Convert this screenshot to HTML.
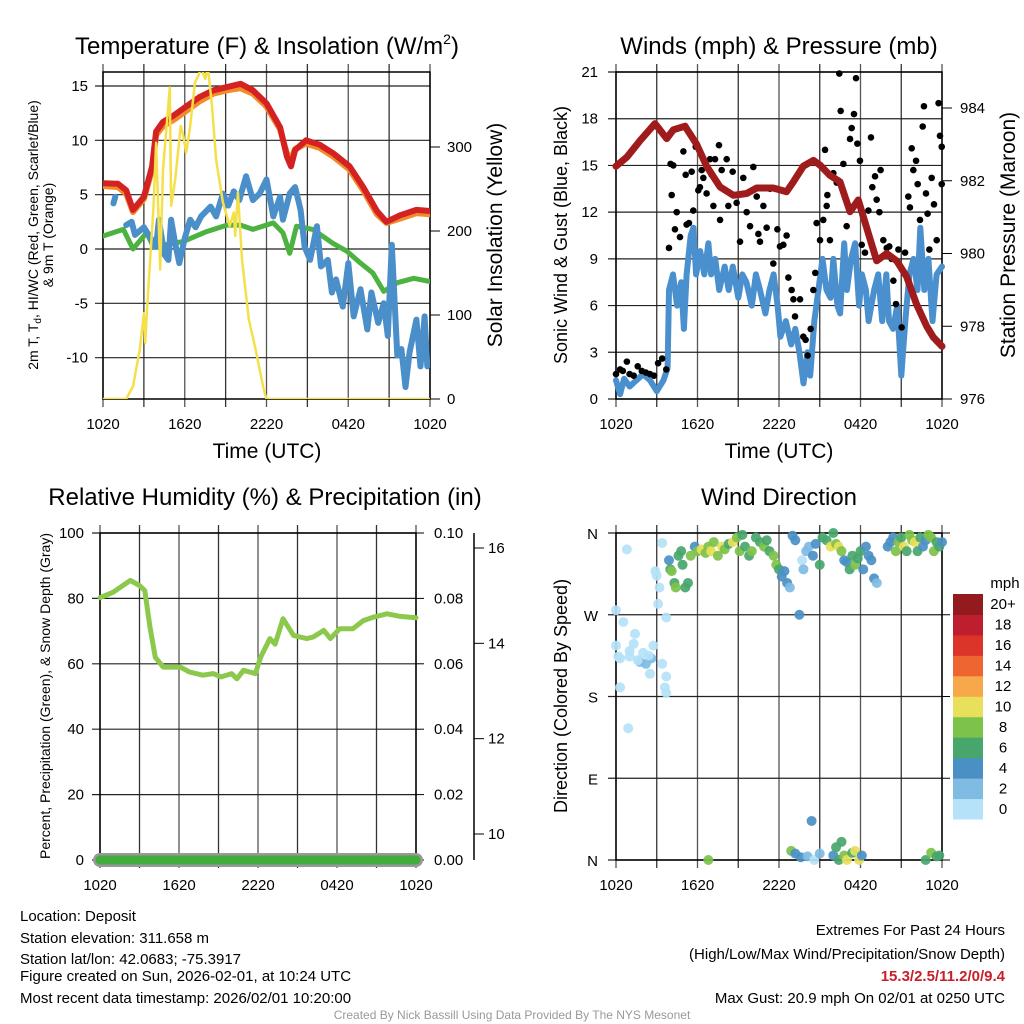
<!DOCTYPE html>
<html><head><meta charset="utf-8"><style>
html,body{margin:0;padding:0;background:#fff;}
svg{display:block;font-family:"Liberation Sans",Arial,sans-serif;}
</style></head><body>
<svg id="root" width="1024" height="1024" viewBox="0 0 1024 1024" xmlns="http://www.w3.org/2000/svg">
<rect width="1024" height="1024" fill="#fff"/>
<text x="267" y="54" font-size="24" text-anchor="middle">Temperature (F) &amp; Insolation (W/m<tspan font-size="14" dy="-10">2</tspan><tspan dy="10">)</tspan></text>
<text x="779" y="54" font-size="24" text-anchor="middle">Winds (mph) &amp; Pressure (mb)</text>
<text x="265" y="505" font-size="24" text-anchor="middle">Relative Humidity (%) &amp; Precipitation (in)</text>
<text x="779" y="505" font-size="24" text-anchor="middle">Wind Direction</text>

<text transform="translate(38,235) rotate(-90)" font-size="14" text-anchor="middle">2m T, T<tspan font-size="10" dy="3">d</tspan><tspan dy="-3">, HI/WC (Red, Green, Scarlet/Blue)</tspan></text>
<text transform="translate(53,235) rotate(-90)" font-size="14" text-anchor="middle">&amp; 9m T (Orange)</text>
<text transform="translate(502,235) rotate(-90)" font-size="21" text-anchor="middle">Solar Insolation (Yellow)</text>
<text x="267" y="458" font-size="21" text-anchor="middle">Time (UTC)</text>
<text transform="translate(567,235) rotate(-90)" font-size="18" text-anchor="middle">Sonic Wind &amp; Gust (Blue, Black)</text>
<text transform="translate(1015,235) rotate(-90)" font-size="21" text-anchor="middle">Station Pressure (Maroon)</text>
<text x="779" y="458" font-size="21" text-anchor="middle">Time (UTC)</text>
<text transform="translate(50,696) rotate(-90)" font-size="14" text-anchor="middle">Percent, Precipitation (Green), &amp; Snow Depth (Gray)</text>
<text transform="translate(567,696) rotate(-90)" font-size="18" text-anchor="middle">Direction (Colored By Speed)</text>

<g font-size="15">
<text x="20" y="921">Location: Deposit</text>
<text x="20" y="943">Station elevation: 311.658 m</text>
<text x="20" y="964">Station lat/lon: 42.0683; -75.3917</text>
<text x="20" y="981">Figure created on Sun, 2026-02-01, at 10:24 UTC</text>
<text x="20" y="1003">Most recent data timestamp: 2026/02/01 10:20:00</text>
</g>
<g font-size="15" text-anchor="end">
<text x="1005" y="935">Extremes For Past 24 Hours</text>
<text x="1005" y="959">(High/Low/Max Wind/Precipitation/Snow Depth)</text>
<text x="1005" y="981" fill="#c8202a" font-weight="bold">15.3/2.5/11.2/0/9.4</text>
<text x="1005" y="1003">Max Gust: 20.9 mph On 02/01 at 0250 UTC</text>
</g>
<text x="512" y="1019" font-size="12" fill="#999" text-anchor="middle">Created By Nick Bassill Using Data Provided By The NYS Mesonet</text>
</svg>
<script>
// ---------- data ----------
const xTickLabels = ["1020","1620","2220","0420","1020"];
const tempHours = [0,1.1,1.7,2.2,3.0,3.6,3.9,4.4,5.2,6.1,7.1,8.1,9.1,10.1,11.0,12.0,13.0,13.5,13.8,14.1,14.9,15.9,16.9,18.1,19.1,20.1,20.8,21.8,23.0,24];
const tempRed =   [6.05,6.0,5.4,3.6,4.8,7.6,10.8,11.7,12.3,13.1,14.0,14.6,14.9,15.2,14.6,13.4,11.2,8.5,7.6,9.1,10.0,9.6,8.8,7.6,5.7,3.5,2.5,3.1,3.6,3.5];
const temp9m =    [5.8,5.7,5.1,3.4,4.6,7.3,10.5,11.3,11.9,12.7,13.6,14.3,14.6,14.8,14.3,13.1,11.0,8.8,8.3,9.2,9.7,9.3,8.5,7.3,5.4,3.2,2.4,2.8,3.3,3.2];
const dewHours = [0,1.5,2.2,3.2,3.7,5.9,7.6,9.1,10.1,11.0,12.5,13.2,13.7,14.2,15.4,16.9,17.9,18.9,19.8,20.6,21.6,22.8,24];
const dewPt =    [1.2,1.8,0,1.5,0.2,0.7,1.6,2.2,2.2,1.8,2.4,1.5,-0.4,2.1,1.8,0.5,-0.2,-1.3,-2.2,-3.9,-3.1,-2.7,-3.0];
const wcHours = [0.76,0.9,null,1.7,2.1,2.35,3.0,3.5,3.9,4.1,4.5,4.8,5.0,5.3,5.6,6.0,6.4,6.8,7.2,7.9,8.3,8.8,9.2,9.6,10.0,10.5,11.0,11.5,12.0,12.5,13.0,13.2,13.7,14.1,14.5,14.8,15.2,15.7,16.0,16.5,16.8,17.1,17.6,18.0,18.4,18.9,19.4,19.7,20.2,20.6,20.9,21.2,21.6,21.9,22.2,22.5,23.0,23.3,23.6,23.8,24];
const windChill = [4.2,4.8,null,2.2,2.5,1.3,2.0,1.0,0.2,2.7,-0.5,-1.0,2.7,0.5,-1.3,1.0,2.7,2.0,3.0,3.9,3.0,5.1,4.0,5.3,4.5,6.7,4.5,5.1,6.4,3.0,4.8,2.7,5.1,5.7,3.6,0.2,-1.0,2.1,-1.6,-1.0,-4.0,-2.8,-5.3,-1.3,-6.2,-3.7,-7.4,-4.0,-6.8,-5.0,-8.0,0.4,-9.8,-9.2,-12.7,-9.5,-6.5,-10.8,-6.2,-10.8,-10.4];
const solarHours = [0,1.7,2.2,2.7,3.0,3.1,3.3,3.7,3.9,4.2,4.4,4.9,5.0,5.3,5.7,5.9,6.1,6.4,6.75,7.0,7.2,7.5,7.7,8.0,8.3,8.8,9.3,9.6,9.7,9.9,10.2,10.7,11.2,11.8,12.0,24];
const solar =      [0,0,15,59,102,67,126,226,305,154,273,371,230,261,325,313,293,325,377,385,395,381,395,349,285,234,206,222,194,246,166,95,59,11,0,0];
const tempTicks = [15,10,5,0,-5,-10];
const solarTicks = [0,100,200,300];

const windHours = [0,0.3,0.6,1,1.5,2,2.5,3,3.5,3.8,3.9,4.2,4.5,4.8,5,5.2,5.5,5.7,5.9,6.2,6.5,6.8,7,7.3,7.6,8,8.3,8.6,9,9.3,9.6,10,10.3,10.6,11,11.3,11.6,11.9,12.1,12.5,12.9,13.2,13.5,13.8,14.1,14.3,14.6,14.9,15.2,15.5,15.8,16,16.3,16.5,16.8,17,17.3,17.6,17.9,18.1,18.4,18.6,19,19.3,19.6,19.9,20.1,20.4,20.7,21,21.3,21.6,21.9,22.2,22.4,22.7,23,23.3,23.6,24];
const windSpd =   [1.2,0.3,1.3,0.8,1.2,1.6,1.2,0.5,1.2,2,7,8,6,7.5,4.5,8,10.5,11,8,9.5,8,10,8,9,7,8.5,7,8.5,6.5,8,7.5,6,8,7,5.5,7,8,6,4,5,3.5,4.5,3,1,3,1.5,5,7,9,7,6.5,9,6,5.5,10,7,9,10,6,8,7,5,7,8,5,8,5,4.5,6,1.5,5,8,9,7,11,7,9,5,8,8.5];
const gustHours = [0.0,0.3,0.5,0.8,1.0,1.3,1.6,1.9,2.2,2.5,2.8,3.1,3.4,3.7,3.90,4.02,4.22,4.10,4.47,4.34,4.71,4.96,5.13,5.20,5.37,5.57,5.69,5.87,6.06,6.18,6.31,6.43,6.67,6.92,7.04,7.17,7.29,7.58,7.66,7.78,8.15,8.27,8.59,8.88,9.13,9.37,9.62,9.87,10.11,10.36,10.48,10.60,10.85,11.09,11.34,11.58,11.73,11.88,12.07,12.32,12.56,12.69,12.93,13.06,13.18,13.55,13.79,13.96,14.11,14.33,14.53,14.67,14.77,15.02,15.26,15.39,15.51,15.56,15.75,16.0,16.25,16.44,16.54,16.74,16.98,17.23,17.35,17.52,17.67,17.77,17.96,18.09,18.33,18.58,18.77,18.87,19.07,19.19,19.39,19.48,19.68,19.93,20.12,20.29,20.42,20.61,20.79,21.03,21.28,21.52,21.64,21.77,21.89,22.09,22.21,22.38,22.58,22.67,22.82,22.94,23.07,23.24,23.41,23.61,23.75,23.85,23.98,23.98];
const gust = [1.6,1.9,1.8,2.4,1.6,1.5,2.1,1.8,1.7,1.6,1.5,2.3,2.6,1.9,9.7,15.1,15.0,13.1,12.0,10.9,10.4,15.9,14.4,11.2,11.3,14.6,12.1,16.2,13.4,13.6,14.7,14.2,13.2,15.4,14.4,12.4,15.4,16.3,11.5,14.7,15.4,12.4,14.6,12.6,10.1,14.2,12.0,11.1,14.9,13.0,10.6,10.1,12.4,11.0,13.5,8.7,13.5,10.9,9.8,9.9,10.5,7.8,7.0,6.4,5.3,6.4,4.0,3.8,2.8,4.5,7.0,8.1,11.3,10.2,11.5,16.0,12.4,13.1,10.2,14.5,13.9,20.9,18.5,15.1,11.1,16.7,17.4,18.3,20.6,16.4,15.3,9.9,9.4,12.1,16.8,13.6,14.3,12.8,12.0,14.7,10.2,9.7,9.8,9.0,7.6,6.1,9.6,4.6,9.4,13.0,12.3,16.1,14.7,15.3,13.8,11.5,17.5,18.8,13.2,11.9,9.6,14.2,12.5,10.2,19.0,16.9,16.2,13.8];
const presHours = [0,0.8,1.77,2.87,3.73,4.22,5.08,5.94,6.67,7.66,8.64,9.62,10.36,11.58,12.56,13.06,13.79,14.53,15.02,15.75,16.49,17.23,17.84,18.58,19.19,19.93,20.66,21.4,22.13,22.87,23.36,24];
const pressure =  [982.4,982.65,983.1,983.57,983.16,983.4,983.5,983.0,982.4,981.83,981.6,981.65,981.8,981.8,981.7,981.97,982.4,982.56,982.43,982.15,981.97,981.15,981.47,980.55,979.8,980.0,979.8,979.36,978.6,978.0,977.7,977.45];
const windTicks = [0,3,6,9,12,15,18,21];
const presTicks = [976,978,980,982,984];

const rhHours = [0,1.0,2.3,3.0,3.4,3.8,4.2,4.8,6.1,6.8,7.8,8.6,9.2,10,10.4,10.9,11.8,12.2,12.9,13.3,13.9,14.7,15.7,16.2,17,17.5,18.2,19.2,20,20.8,21.8,22.8,24];
const rh =      [80.2,81.9,85.5,83.9,82.4,71.2,62,59,59,57.5,56.5,57,56,57,55.4,58,57,62,67.7,66,73.8,68.7,67.7,68.2,70.2,67.7,70.7,70.7,73.2,74.3,75.3,74.5,74.1];
const precip = [0,0];
const snowDepth = [9.4,9.4];
const rhTicks = [0,20,40,60,80,100];
const precipTicks = ["0.00","0.02","0.04","0.06","0.08","0.10"];
const snowTicks = [10,12,14,16];

const dirHours = [0.8,0,0.54,0,0.17,0.3,1.0,1.3,1.4,1.77,2.2,2.5,2.75,2.6,3.4,3.6,3.7,3.7,0.9,0.3,1.0,2.9,3.0,3.2,3.1,3.7,3.4,1.6,2.0,2.4,
 3.9,4.0,4.1,4.3,4.4,4.6,4.8,4.9,5.1,5.3,5.5,5.8,6.0,6.3,6.6,6.8,7.0,7.2,7.5,7.8,8.0,8.3,8.6,8.9,9.1,9.3,9.5,9.8,10.0,10.3,10.6,10.9,11.1,11.3,11.6,11.8,12.0,12.2,12.4,12.6,12.8,13.0,13.2,13.5,13.7,13.8,14.0,14.2,14.5,14.7,15.0,15.2,15.5,15.8,16.0,16.2,16.4,16.6,16.8,17.0,17.2,17.4,17.6,17.8,18.0,18.2,18.4,18.6,18.8,19.0,19.2,20.0,20.2,20.4,20.6,20.8,21.0,21.2,21.4,21.6,21.8,22.0,22.2,22.4,22.6,22.8,23.0,23.2,23.4,23.6,23.8,24,
 6.8,12.9,13.2,13.6,14.1,14.4,14.6,15.0,16.0,16.2,16.4,16.6,16.8,17.0,17.4,17.6,17.9,18.1,22.8,23.2,23.6,23.8];
const dirDeg = [342,275,262,236,224,222,224,238,249,218,216,205,236,222,216,190,202,184,145,190,230,318,313,300,282,267,349,220,228,225,
 330,320,318,305,300,335,340,325,300,305,335,345,340,342,338,345,340,350,335,345,342,348,350,355,340,358,345,335,340,355,350,345,352,340,335,325,320,312,318,305,300,357,352,270,330,320,340,345,335,348,325,355,352,345,360,348,345,340,330,328,320,335,325,332,340,320,345,335,330,310,305,345,350,355,340,350,355,345,340,358,352,350,340,355,345,352,358,355,340,350,345,350,
 0,10,7,3,4,43,0,7,5,14,0,20,5,0,8,10,0,5,0,8,4,5];
const dirSpd = [1,1,1,1,1,1,1,1,1,3,3,1,1,3,1,1,1,1,1,1,1,1,1,1,1,1,1,1,1,1,
 4,7,8,6,8,7,6,6,6,6,8,5,8,10,9,8,10,9,9,10,8,7,10,8,8,6,6,7,8,6,7,8,6,6,8,8,7,4,5,4,3,4,4,4,1,2,3,3,5,5,6,6,6,10,7,8,10,8,4,4,6,6,8,6,6,4,4,4,5,4,2,4,4,4,8,8,6,10,6,8,8,10,6,6,4,4,8,8,8,6,6,4,8,
 8,4,4,2,4,1,2,4,6,6,6,8,10,6,10,10,4,6,8,6,6,6];
const speedBins = ["0","2","4","6","8","10","12","14","16","18","20+"];
const speedColors = ["#b5e2f8","#7fbbe3","#4a90c5","#48a66c","#7dc24a","#e8e05a","#f7a84a","#ef6530","#dd3429","#be1e2d","#931a1d"];
const dirTicks = ["N","E","S","W","N"];

// ---------- helpers ----------
const NS="http://www.w3.org/2000/svg";
const root=document.getElementById('root');
function mk(tag,attrs,parent){const e=document.createElementNS(NS,tag);for(const k in attrs)e.setAttribute(k,attrs[k]);(parent||root).appendChild(e);return e;}
function lin(d0,d1,r0,r1){return v=>r0+(v-d0)*(r1-r0)/(d1-d0);}
function poly(hs,vs,xs,ys,stroke,w,parent,name){
  let segs=[],cur=[];
  for(let i=0;i<hs.length;i++){ if(vs[i]==null||hs[i]==null){if(cur.length)segs.push(cur);cur=[];continue;} cur.push(xs(hs[i]).toFixed(1)+','+ys(vs[i]).toFixed(1)); }
  if(cur.length)segs.push(cur);
  segs.forEach(s=>{const p=mk('polyline',{points:s.join(' '),fill:'none',stroke:stroke,'stroke-width':w,'stroke-linejoin':'round','stroke-linecap':'round'},parent);
    
    });
}
function frame(x0,x1,y0,y1,hTicksY,name){
  const g=mk('g',{});
  
  
  for(let i=0;i<=8;i++){const x=x0+(x1-x0)*i/8;
    mk('line',{x1:x,x2:x,y1:y0-8,y2:y1+8,stroke:(i%2?'#333':'#555'),'stroke-width':1.3},g);}
  hTicksY.forEach(y=>mk('line',{x1:x0-8,x2:x1,y1:y,y2:y,stroke:'#222','stroke-width':1.2},g));
  mk('rect',{x:x0,y:y0,width:x1-x0,height:y1-y0,fill:'none',stroke:'#000','stroke-width':1.5},g);
  for(let i=0;i<=4;i++){const t=mk('text',{x:x0+(x1-x0)*i/4,y:y1+30,'font-size':15,'text-anchor':'middle'},g);t.textContent=xTickLabels[i];}
  return g;
}

// ---------- Panel 1: temperature ----------
(function(){
  const x0=103,x1=430,y0=72,y1=399;
  const xs=lin(0,24,x0,x1), ys=lin(0,15,249,86), ysR=lin(0,300,399,147);
  const g=frame(x0,x1,y0,y1,tempTicks.map(ys),'temp-panel');
  tempTicks.forEach(v=>{const t=mk('text',{x:88,y:ys(v)+5,'font-size':15,'text-anchor':'end'},g);t.textContent=v;});
  solarTicks.forEach(v=>{mk('line',{x1:x1,x2:x1+10,y1:ysR(v),y2:ysR(v),stroke:'#000'},g);const t=mk('text',{x:447,y:ysR(v)+5,'font-size':15},g);t.textContent=v;});
  const clip=mk('clipPath',{id:'c1'});mk('rect',{x:x0,y:y0,width:x1-x0,height:y1-y0},clip);
  const d=mk('g',{'clip-path':'url(#c1)'},g);
  poly(dewHours,dewPt,xs,ys,'#4cb340',5,d,'dewpoint-line');
  poly(wcHours,windChill,xs,ys,'#4a8fca',6,d,'windchill-line');
  poly(tempHours,temp9m,xs,ys,'#f28b2b',6,d,'temp-9m-line');
  poly(tempHours,tempRed,xs,ys,'#d42222',6,d,'temp-2m-line');
  poly(solarHours,solar,xs,ysR,'#f5e04a',2.5,d,'solar-line');
})();

// ---------- Panel 2: winds ----------
(function(){
  const x0=616,x1=942,y0=72,y1=399;
  const xs=lin(0,24,x0,x1), ys=lin(0,21,399,72), ysR=lin(976,984,399,108);
  const g=frame(x0,x1,y0,y1,windTicks.map(ys),'wind-panel');
  windTicks.forEach(v=>{const t=mk('text',{x:598,y:ys(v)+5,'font-size':15,'text-anchor':'end'},g);t.textContent=v;});
  presTicks.forEach(v=>{mk('line',{x1:x1,x2:x1+10,y1:ysR(v),y2:ysR(v),stroke:'#000'},g);const t=mk('text',{x:960,y:ysR(v)+5,'font-size':15},g);t.textContent=v;});
  poly(windHours,windSpd,xs,ys,'#4a90cf',6,g,'wind-speed-line');
  gustHours.forEach((h,i)=>{const c=mk('circle',{cx:xs(h),cy:ys(gust[i]),r:3.3,fill:'#000'},g);
    
    });
  poly(presHours,pressure,xs,ysR,'#a01c1c',7,g,'pressure-line');
})();

// ---------- Panel 3: RH ----------
(function(){
  const x0=100,x1=416,y0=533,y1=860;
  const xs=lin(0,24,x0,x1), ys=lin(0,100,860,533), ysS=lin(10,16,834,548);
  const g=frame(x0,x1,y0,y1,rhTicks.map(ys),'rh-panel');
  rhTicks.forEach((v,i)=>{const t=mk('text',{x:84,y:ys(v)+5,'font-size':15,'text-anchor':'end'},g);t.textContent=v;
    mk('line',{x1:x1,x2:x1+8,y1:ys(v),y2:ys(v),stroke:'#000'},g);
    const t2=mk('text',{x:434,y:ys(v)+5,'font-size':15},g);t2.textContent=precipTicks[i];});
  mk('line',{x1:474,x2:474,y1:533,y2:860,stroke:'#000','stroke-width':1.5},g);
  snowTicks.forEach(v=>{mk('line',{x1:474,x2:484,y1:ysS(v),y2:ysS(v),stroke:'#000'},g);const t=mk('text',{x:488,y:ysS(v)+5,'font-size':15},g);t.textContent=v;});
  poly([0,24],snowDepth.map(()=>0),xs,ys,'#999',14,g,'snow-depth-line');
  poly([0,24],precip,xs,ys,'#41ad3c',9,g,'precip-line');
  poly(rhHours,rh,xs,ys,'#8cc84b',5,g,'rh-line');
})();

// ---------- Panel 4: wind direction ----------
(function(){
  const x0=616,x1=942,y0=533,y1=860;
  const xs=lin(0,24,x0,x1), ys=lin(0,360,860,533);
  const g=frame(x0,x1,y0,y1,[0,90,180,270,360].map(ys),'direction-panel');
  [0,90,180,270,360].forEach((v,i)=>{mk('line',{x1:x1,x2:x1+8,y1:ys(v),y2:ys(v),stroke:'#000'},g);
    const t=mk('text',{x:598,y:ys(v)+6,'font-size':15,'text-anchor':'end'},g);t.textContent=dirTicks[i];});
  dirHours.forEach((h,i)=>{const c=mk('circle',{cx:xs(h),cy:ys(dirDeg[i]),r:5,fill:speedColors[Math.min(10,Math.floor(dirSpd[i]/2))],'fill-opacity':0.92},g);
    
    });
  const lg=mk('g',{});
  
  
  const t0=mk('text',{x:1005,y:588,'font-size':15,'text-anchor':'middle'},lg);t0.textContent='mph';
  const segH=(819-594)/11;
  for(let i=0;i<11;i++){const y=594+(10-i)*segH;
    mk('rect',{x:953,y:y,width:30,height:segH+0.5,fill:speedColors[i]},lg);
    const t=mk('text',{x:1003,y:y+segH/2+5,'font-size':15,'text-anchor':'middle'},lg);t.textContent=speedBins[i];}
})();
</script>
</body></html>
